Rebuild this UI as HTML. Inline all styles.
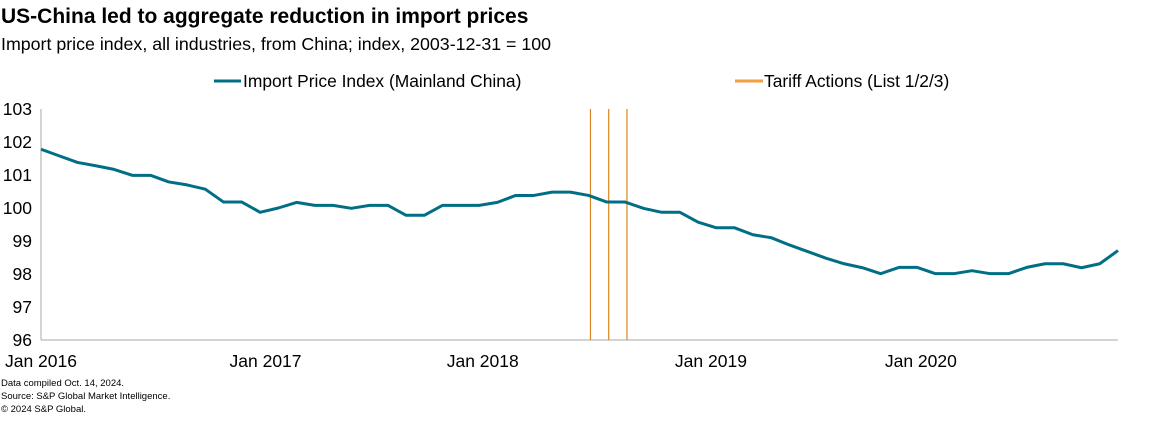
<!DOCTYPE html>
<html><head><meta charset="utf-8"><style>
body{margin:0;width:1161px;height:416px;background:#fff;font-family:"Liberation Sans",Arial,sans-serif;overflow:hidden}
</style></head><body>
<svg width="1161" height="416" font-family="Liberation Sans, Arial, sans-serif">
<text x="1" y="23" font-size="21" font-weight="bold" fill="#000">US-China led to aggregate reduction in import prices</text>
<text x="1" y="50" font-size="17.8" fill="#000">Import price index, all industries, from China; index, 2003-12-31 = 100</text>
<g>
<line x1="214" y1="81" x2="241" y2="81" stroke="#006f86" stroke-width="3"/>
<text x="243" y="87" font-size="17.4">Import Price Index (Mainland China)</text>
<line x1="735" y1="81" x2="763" y2="81" stroke="#f0a040" stroke-width="3"/>
<text x="764" y="87" font-size="17.4">Tariff Actions (List 1/2/3)</text>
</g>
<g id="plot"></g>
<text x="1" y="386" font-size="9.5">Data compiled Oct. 14, 2024.</text>
<text x="1" y="399" font-size="9.5">Source: S&amp;P Global Market Intelligence.</text>
<text x="1" y="412" font-size="9.5">© 2024 S&amp;P Global.</text>
</svg>
<script>
const values=[101.78,101.58,101.38,101.28,101.17,100.99,100.99,100.79,100.7,100.57,100.18,100.18,99.87,100.0,100.17,100.08,100.08,99.99,100.08,100.08,99.78,99.78,100.08,100.08,100.08,100.17,100.38,100.38,100.48,100.48,100.38,100.18,100.18,99.99,99.87,99.87,99.57,99.40,99.40,99.19,99.10,98.88,98.68,98.48,98.31,98.19,98.01,98.2,98.2,98.01,98.01,98.10,98.01,98.01,98.2,98.31,98.31,98.19,98.31,98.71];
const tariffIdx=[30.1,31.1,32.1];
const yTicks=[96,97,98,99,100,101,102,103];
const xTickLabels=["Jan 2016","Jan 2017","Jan 2018","Jan 2019","Jan 2020"];
const xTickIdx=[0,12.3,24.2,36.7,48.2];
const NS="http://www.w3.org/2000/svg";
const g=document.getElementById('plot');
const x0=41,x1=1118,y0=340,y1=109;
const xs=i=>x0+i*(x1-x0)/(values.length-1);
const ys=v=>y0-(v-96)*(y0-y1)/7;
function mk(t,a){const e=document.createElementNS(NS,t);for(const k in a)e.setAttribute(k,a[k]);g.appendChild(e);return e;}
const ya=mk('line',{x1:x0,y1:y1,x2:x0,y2:y0,stroke:'#aaa','stroke-width':1});


const xa=mk('line',{x1:x0,y1:y0,x2:x1,y2:y0,stroke:'#aaa','stroke-width':1});


yTicks.forEach(v=>{const t=mk('text',{x:32,y:ys(v)+6,'font-size':17.5,'text-anchor':'end'});t.textContent=v;

});
xTickLabels.forEach((l,k)=>{const t=mk('text',{x:xs(xTickIdx[k]),y:367,'font-size':17.5,'text-anchor':'middle'});t.textContent=l;

});
tariffIdx.forEach(i=>{const l=mk('line',{x1:xs(i),y1:y1,x2:xs(i),y2:y0,stroke:'#d9861c','stroke-width':1.2});

});
const p=mk('polyline',{points:values.map((v,i)=>xs(i)+','+ys(v)).join(' '),fill:'none',stroke:'#006f86','stroke-width':3,'stroke-linejoin':'round'});


</script>
</body></html>
